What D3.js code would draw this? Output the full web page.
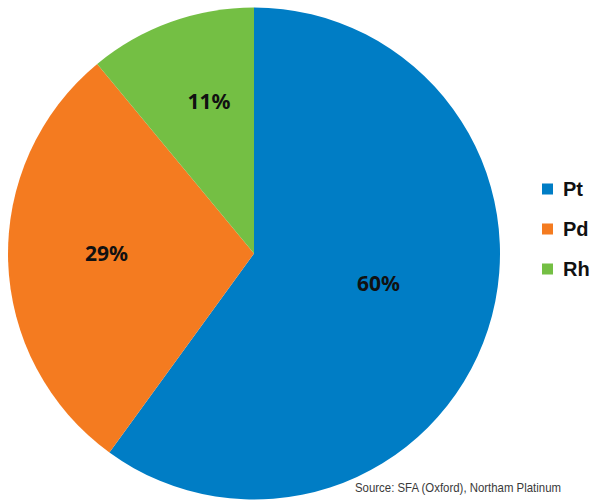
<!DOCTYPE html>
<html>
<head>
<meta charset="utf-8">
<script src="https://cdn.jsdelivr.net/npm/d3@7"></script>
<style>
  body { margin: 0; background: #fff; }
</style>
</head>
<body>
<svg id="chart"></svg>
<script>
// data
var metals = ["Pt", "Pd", "Rh"];
var shares = [60, 29, 11];
var colors = ["#007DC5", "#F47B20", "#74BF44"];
var source = "Source: SFA (Oxford), Northam Platinum";

var width = 590,
    height = 500,
    cx = 254,
    cy = 253.5,
    radius = 246;

var svg = d3.select("#chart")
    .attr("width", width)
    .attr("height", height);

var g = svg.append("g")
    .attr("transform", "translate(" + cx + "," + cy + ")");

var color = d3.scaleOrdinal().domain(metals).range(colors);

var pie = d3.pie()
    .sort(null)
    .value(function(d, i) { return shares[i]; });

var arcs = pie(metals);

var arc = d3.arc()
    .innerRadius(0)
    .outerRadius(radius);

g.selectAll("path")
    .data(arcs)
    .enter().append("path")
    .attr("d", arc)
    .style("fill", function(d) { return color(d.data); });

// label placement: radius fraction and angle nudge (degrees) per slice
var labelR = [0.52, 0.6, 0.645];
var labelNudge = [-4.6, 2, 3.3];

g.selectAll("text.pct")
    .data(arcs)
    .enter().append("text")
    .attr("class", "pct")
    .attr("transform", function(d, i) {
        var a = (d.startAngle + d.endAngle) / 2 + labelNudge[i] * Math.PI / 180;
        var r = radius * labelR[i];
        return "translate(" + (Math.sin(a) * r) + "," + (-Math.cos(a) * r) + ")";
    })
    .attr("text-anchor", "middle")
    .attr("dy", "0.36em")
    .style("font-family", "'Noto Sans', sans-serif")
    .style("font-weight", "700")
    .style("font-size", "21px")
    .style("fill", "#111")
    .text(function(d, i) { return shares[i] + "%"; });

// legend
var y = d3.scalePoint().domain(metals).range([189, 269]);

var legend = svg.append("g");

legend.selectAll("rect")
    .data(metals)
    .enter().append("rect")
    .attr("x", 542)
    .attr("y", function(d) { return y(d) - 5.5; })
    .attr("width", 11)
    .attr("height", 11)
    .style("fill", function(d) { return color(d); });

legend.selectAll("text")
    .data(metals)
    .enter().append("text")
    .attr("x", 563)
    .attr("y", function(d) { return y(d); })
    .attr("dy", "0.36em")
    .style("font-family", "'Liberation Sans', Arial, sans-serif")
    .style("font-weight", "700")
    .style("font-size", "20px")
    .style("fill", "#111")
    .text(function(d) { return d; });

svg.append("text")
    .attr("x", 355)
    .attr("y", 492)
    .attr("textLength", 206)
    .attr("lengthAdjust", "spacingAndGlyphs")
    .style("font-family", "'Liberation Sans', Arial, sans-serif")
    .style("font-size", "13px")
    .style("fill", "#3a3a3a")
    .text(source);
</script>
</body>
</html>
